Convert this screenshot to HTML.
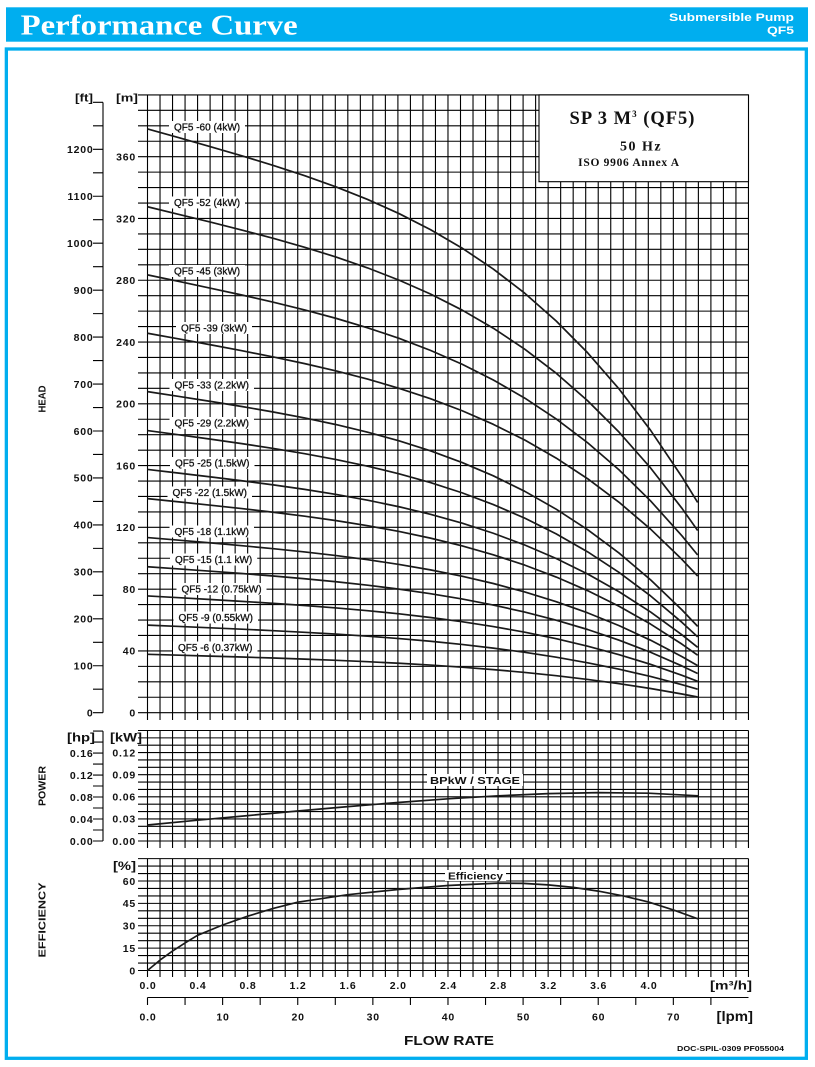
<!DOCTYPE html>
<html><head><meta charset="utf-8"><style>
html,body{margin:0;padding:0;background:#fff;}
body{width:815px;height:1067px;overflow:hidden;}
svg{display:block;}
.t{font-family:"Liberation Sans",Arial,sans-serif;font-weight:bold;font-size:10.5px;fill:#111;letter-spacing:0.8px;}
.lb{font-family:"Liberation Sans",Arial,sans-serif;font-size:10px;fill:#111;stroke:#111;stroke-width:0.3;}
.u{font-family:"Liberation Sans",Arial,sans-serif;font-weight:bold;fill:#111;}
.sf{font-family:"Liberation Serif","Times New Roman",serif;font-weight:bold;fill:#111;}
</style></head><body>
<svg width="815" height="1067" viewBox="0 0 815 1067" xmlns="http://www.w3.org/2000/svg">
<defs>
<path id="vl" d="M0 94.9V720M0 730.5V848M0 858.6V977"/>
</defs>
<rect x="0" y="0" width="815" height="1067" fill="#fff"/>
<!-- header -->
<rect x="6" y="7.3" width="802" height="34.4" fill="#00AEEF"/>
<text x="20.7" y="34.3" font-family="'Liberation Serif','Times New Roman',serif" font-weight="bold" font-size="29" fill="#fff" textLength="277" lengthAdjust="spacingAndGlyphs">Performance Curve</text>
<text x="794" y="21" text-anchor="end" font-family="'Liberation Sans',Arial,sans-serif" font-weight="bold" font-size="11" fill="#fff" textLength="125" lengthAdjust="spacingAndGlyphs">Submersible Pump</text>
<text x="794" y="34" text-anchor="end" font-family="'Liberation Sans',Arial,sans-serif" font-weight="bold" font-size="11" fill="#fff" textLength="27" lengthAdjust="spacingAndGlyphs">QF5</text>
<rect x="6.35" y="49" width="800" height="1009.3" fill="none" stroke="#00AEEF" stroke-width="3.3"/>

<!-- grid -->
<g stroke="#000" stroke-width="1.1" fill="none">
<use href="#vl" x="147.5"/><use href="#vl" x="160.02"/><use href="#vl" x="172.54"/><use href="#vl" x="185.06"/><use href="#vl" x="197.58"/><use href="#vl" x="210.1"/><use href="#vl" x="222.62"/><use href="#vl" x="235.14"/><use href="#vl" x="247.66"/><use href="#vl" x="260.18"/><use href="#vl" x="272.7"/><use href="#vl" x="285.22"/><use href="#vl" x="297.74"/><use href="#vl" x="310.26"/><use href="#vl" x="322.78"/><use href="#vl" x="335.3"/><use href="#vl" x="347.82"/><use href="#vl" x="360.34"/><use href="#vl" x="372.86"/><use href="#vl" x="385.38"/><use href="#vl" x="397.9"/><use href="#vl" x="410.42"/><use href="#vl" x="422.94"/><use href="#vl" x="435.46"/><use href="#vl" x="447.98"/><use href="#vl" x="460.5"/><use href="#vl" x="473.02"/><use href="#vl" x="485.54"/><use href="#vl" x="498.06"/><use href="#vl" x="510.58"/><use href="#vl" x="523.1"/><use href="#vl" x="535.62"/><use href="#vl" x="548.14"/><use href="#vl" x="560.66"/><use href="#vl" x="573.18"/><use href="#vl" x="585.7"/><use href="#vl" x="598.22"/><use href="#vl" x="610.74"/><use href="#vl" x="623.26"/><use href="#vl" x="635.78"/><use href="#vl" x="648.3"/><use href="#vl" x="660.82"/><use href="#vl" x="673.34"/><use href="#vl" x="685.86"/><use href="#vl" x="698.38"/><use href="#vl" x="710.9"/><use href="#vl" x="723.42"/><use href="#vl" x="735.94"/><use href="#vl" x="748.46"/>
<path d="M138 712.7H748.5M138 697.26H748.5M138 681.81H748.5M138 666.37H748.5M138 650.92H748.5M138 635.48H748.5M138 620.03H748.5M138 604.59H748.5M138 589.14H748.5M138 573.7H748.5M138 558.25H748.5M138 542.81H748.5M138 527.36H748.5M138 511.92H748.5M138 496.47H748.5M138 481.03H748.5M138 465.58H748.5M138 450.14H748.5M138 434.69H748.5M138 419.25H748.5M138 403.8H748.5M138 388.36H748.5M138 372.91H748.5M138 357.47H748.5M138 342.02H748.5M138 326.58H748.5M138 311.13H748.5M138 295.69H748.5M138 280.24H748.5M138 264.8H748.5M138 249.35H748.5M138 233.91H748.5M138 218.46H748.5M138 203.02H748.5M138 187.57H748.5M138 172.13H748.5M138 156.68H748.5M138 141.24H748.5M138 125.79H748.5M138 110.35H748.5M138 94.9H748.5"/>
<path d="M138 841H748.5M138 833.63H748.5M138 826.27H748.5M138 818.9H748.5M138 811.53H748.5M138 804.17H748.5M138 796.8H748.5M138 789.43H748.5M138 782.07H748.5M138 774.7H748.5M138 767.33H748.5M138 759.97H748.5M138 752.6H748.5M138 745.23H748.5M138 737.87H748.5M138 730.5H748.5"/>
<path d="M138 970.5H748.5M138 963.04H748.5M138 955.58H748.5M138 948.13H748.5M138 940.67H748.5M138 933.21H748.5M138 925.75H748.5M138 918.29H748.5M138 910.84H748.5M138 903.38H748.5M138 895.92H748.5M138 888.46H748.5M138 881H748.5M138 873.55H748.5M138 866.09H748.5M138 858.63H748.5"/>
<!-- ft axis -->
<path d="M103 102.35V712.7M93 712.7H103M93 689.23H103M93 665.75H103M93 642.28H103M93 618.8H103M93 595.33H103M93 571.85H103M93 548.38H103M93 524.9H103M93 501.43H103M93 477.95H103M93 454.48H103M93 431H103M93 407.53H103M93 384.05H103M93 360.58H103M93 337.1H103M93 313.63H103M93 290.15H103M93 266.68H103M93 243.2H103M93 219.73H103M93 196.25H103M93 172.78H103M93 149.3H103M93 125.83H103M93 102.35H103"/>
<!-- hp axis -->
<path d="M103 731.1V841M93 841H103M93 830H103M93 819H103M93 808H103M93 797H103M93 786H103M93 775.1H103M93 764.1H103M93 753.1H103M93 742.1H103M93 731.1H103"/>
<!-- lpm axis -->
<path d="M147.5 997.5H748.5M147.5 997.5V1005M185.06 997.5V1005M222.62 997.5V1005M260.18 997.5V1005M297.74 997.5V1005M335.3 997.5V1005M372.86 997.5V1005M410.42 997.5V1005M447.98 997.5V1005M485.54 997.5V1005M523.1 997.5V1005M560.66 997.5V1005M598.22 997.5V1005M635.78 997.5V1005M673.34 997.5V1005M710.9 997.5V1005"/>
</g>

<!-- legend box -->
<rect x="539" y="94.9" width="209.5" height="86.8" fill="#fff" stroke="#000" stroke-width="1.1"/>
<text class="sf" x="632.5" y="124" text-anchor="middle" font-size="18.5" letter-spacing="1">SP 3 M<tspan font-size="9" dy="-7">3</tspan><tspan dy="7"> (QF5)</tspan></text>
<text class="sf" x="641" y="150.5" text-anchor="middle" font-size="14" letter-spacing="1.5">50 Hz</text>
<text class="sf" x="629" y="166" text-anchor="middle" font-size="11.5" letter-spacing="0.7">ISO 9906 Annex A</text>

<!-- curve label backgrounds -->
<g fill="#fff">
<rect x="169" y="121" width="76" height="12"/>
<rect x="169" y="196.5" width="76" height="12"/>
<rect x="169" y="265" width="76" height="12"/>
<rect x="176" y="322" width="76" height="12"/>
<rect x="169.5" y="379" width="84.5" height="12"/>
<rect x="169.5" y="417" width="84.5" height="12"/>
<rect x="170" y="457" width="84.5" height="12"/>
<rect x="167.5" y="486.5" width="84.5" height="12"/>
<rect x="169.5" y="525.5" width="84.5" height="12"/>
<rect x="170" y="553.5" width="87.2" height="12"/>
<rect x="176.5" y="583" width="90" height="12"/>
<rect x="173.5" y="611.5" width="84.5" height="12"/>
<rect x="173" y="641.5" width="84.5" height="12"/>
<rect x="427" y="774" width="96" height="12"/>
<rect x="445" y="870" width="61" height="11"/>
</g>
<g class="lb">
<text x="174" y="130.6">QF5 -60 (4kW)</text>
<text x="174" y="206.1">QF5 -52 (4kW)</text>
<text x="174" y="274.6">QF5 -45 (3kW)</text>
<text x="181" y="331.6">QF5 -39 (3kW)</text>
<text x="174.5" y="388.6">QF5 -33 (2.2kW)</text>
<text x="174.5" y="426.6">QF5 -29 (2.2kW)</text>
<text x="175" y="466.6">QF5 -25 (1.5kW)</text>
<text x="172.5" y="496.1">QF5 -22 (1.5kW)</text>
<text x="174.5" y="535.1">QF5 -18 (1.1kW)</text>
<text x="175" y="563.1">QF5 -15 (1.1 kW)</text>
<text x="181.5" y="592.6">QF5 -12 (0.75kW)</text>
<text x="178.5" y="621.1">QF5 -9 (0.55kW)</text>
<text x="178" y="651.1">QF5 -6 (0.37kW)</text>
</g>
<text class="u" x="430" y="784" font-size="10.5" textLength="90" lengthAdjust="spacingAndGlyphs">BPkW / STAGE</text>
<text class="u" x="448" y="879.5" font-size="10.5" textLength="55" lengthAdjust="spacingAndGlyphs">Efficiency</text>

<!-- head curves -->
<g transform="translate(0 712.7) scale(1 -1.5444)" fill="none" stroke="#1a1a1a" stroke-width="1.7" stroke-linejoin="round">
<path transform="scale(1 60)" vector-effect="non-scaling-stroke" d="M147.5 6.3L178.94 6.2049L210.38 6.1088L241.81 6.01L273.25 5.9064L304.69 5.7953L336.13 5.6739L367.56 5.5388L399 5.3866L430.44 5.2134L461.88 5.0152L493.31 4.7877L524.75 4.5268L556.19 4.2274L587.63 3.8844L619.06 3.4934L650.5 3.0487L681.94 2.5452L697.66 2.2691"/>
<path transform="scale(1 52)" vector-effect="non-scaling-stroke" d="M147.5 6.3L178.94 6.2049L210.38 6.1088L241.81 6.01L273.25 5.9064L304.69 5.7953L336.13 5.6739L367.56 5.5388L399 5.3866L430.44 5.2134L461.88 5.0152L493.31 4.7877L524.75 4.5268L556.19 4.2274L587.63 3.8844L619.06 3.4934L650.5 3.0487L681.94 2.5452L697.66 2.2691"/>
<path transform="scale(1 45)" vector-effect="non-scaling-stroke" d="M147.5 6.3L178.94 6.2049L210.38 6.1088L241.81 6.01L273.25 5.9064L304.69 5.7953L336.13 5.6739L367.56 5.5388L399 5.3866L430.44 5.2134L461.88 5.0152L493.31 4.7877L524.75 4.5268L556.19 4.2274L587.63 3.8844L619.06 3.4934L650.5 3.0487L681.94 2.5452L697.66 2.2691"/>
<path transform="scale(1 39)" vector-effect="non-scaling-stroke" d="M147.5 6.3L178.94 6.2049L210.38 6.1088L241.81 6.01L273.25 5.9064L304.69 5.7953L336.13 5.6739L367.56 5.5388L399 5.3866L430.44 5.2134L461.88 5.0152L493.31 4.7877L524.75 4.5268L556.19 4.2274L587.63 3.8844L619.06 3.4934L650.5 3.0487L681.94 2.5452L697.66 2.2691"/>
<path transform="scale(1 33)" vector-effect="non-scaling-stroke" d="M147.5 6.3L178.94 6.2048L210.38 6.1082L241.81 6.0077L273.25 5.9005L304.69 5.7834L336.13 5.6527L367.56 5.5044L399 5.3344L430.44 5.1381L461.88 4.9109L493.31 4.6478L524.75 4.3438L556.19 3.9932L587.63 3.5914L619.06 3.1319L650.5 2.6091L681.94 2.0176L697.66 1.6935"/>
<path transform="scale(1 29)" vector-effect="non-scaling-stroke" d="M147.5 6.3L178.94 6.2048L210.38 6.1082L241.81 6.0077L273.25 5.9005L304.69 5.7834L336.13 5.6527L367.56 5.5044L399 5.3344L430.44 5.1381L461.88 4.9109L493.31 4.6478L524.75 4.3438L556.19 3.9932L587.63 3.5914L619.06 3.1319L650.5 2.6091L681.94 2.0176L697.66 1.6935"/>
<path transform="scale(1 25)" vector-effect="non-scaling-stroke" d="M147.5 6.3L178.94 6.2048L210.38 6.1082L241.81 6.0077L273.25 5.9005L304.69 5.7834L336.13 5.6527L367.56 5.5044L399 5.3344L430.44 5.1381L461.88 4.9109L493.31 4.6478L524.75 4.3438L556.19 3.9932L587.63 3.5914L619.06 3.1319L650.5 2.6091L681.94 2.0176L697.66 1.6935"/>
<path transform="scale(1 22)" vector-effect="non-scaling-stroke" d="M147.5 6.3L178.94 6.2048L210.38 6.1082L241.81 6.0077L273.25 5.9005L304.69 5.7834L336.13 5.6527L367.56 5.5044L399 5.3344L430.44 5.1381L461.88 4.9109L493.31 4.6478L524.75 4.3438L556.19 3.9932L587.63 3.5914L619.06 3.1319L650.5 2.6091L681.94 2.0176L697.66 1.6935"/>
<path transform="scale(1 18)" vector-effect="non-scaling-stroke" d="M147.5 6.3L178.94 6.2048L210.38 6.1082L241.81 6.0077L273.25 5.9005L304.69 5.7834L336.13 5.6527L367.56 5.5044L399 5.3344L430.44 5.1381L461.88 4.9109L493.31 4.6478L524.75 4.3438L556.19 3.9932L587.63 3.5914L619.06 3.1319L650.5 2.6091L681.94 2.0176L697.66 1.6935"/>
<path transform="scale(1 15)" vector-effect="non-scaling-stroke" d="M147.5 6.3L178.94 6.2048L210.38 6.1082L241.81 6.0077L273.25 5.9005L304.69 5.7834L336.13 5.6527L367.56 5.5044L399 5.3344L430.44 5.1381L461.88 4.9109L493.31 4.6478L524.75 4.3438L556.19 3.9932L587.63 3.5914L619.06 3.1319L650.5 2.6091L681.94 2.0176L697.66 1.6935"/>
<path transform="scale(1 12)" vector-effect="non-scaling-stroke" d="M147.5 6.3L178.94 6.2048L210.38 6.1082L241.81 6.0077L273.25 5.9005L304.69 5.7834L336.13 5.6527L367.56 5.5044L399 5.3344L430.44 5.1381L461.88 4.9109L493.31 4.6478L524.75 4.3438L556.19 3.9932L587.63 3.5914L619.06 3.1319L650.5 2.6091L681.94 2.0176L697.66 1.6935"/>
<path transform="scale(1 9)" vector-effect="non-scaling-stroke" d="M147.5 6.3L178.94 6.2048L210.38 6.1082L241.81 6.0077L273.25 5.9005L304.69 5.7834L336.13 5.6527L367.56 5.5044L399 5.3344L430.44 5.1381L461.88 4.9109L493.31 4.6478L524.75 4.3438L556.19 3.9932L587.63 3.5914L619.06 3.1319L650.5 2.6091L681.94 2.0176L697.66 1.6935"/>
<path transform="scale(1 6)" vector-effect="non-scaling-stroke" d="M147.5 6.3L178.94 6.2048L210.38 6.1082L241.81 6.0077L273.25 5.9005L304.69 5.7834L336.13 5.6527L367.56 5.5044L399 5.3344L430.44 5.1381L461.88 4.9109L493.31 4.6478L524.75 4.3438L556.19 3.9932L587.63 3.5914L619.06 3.1319L650.5 2.6091L681.94 2.0176L697.66 1.6935"/>
</g>

<!-- power & efficiency curves -->
<g fill="none" stroke="#1a1a1a" stroke-width="1.7" stroke-linejoin="round">
<polyline points="147.5,825 197.6,820.2 247.7,815.6 297.7,811 347.8,806.6 397.9,802.5 448,798.8 498.1,795.8 548.1,793.6 598.2,792.6 648.3,793.2 698.4,795.8"/>
<polyline points="147.5,970.5 160,960.1 172.5,951.1 185.1,942.9 197.6,935.3 222.6,925 247.7,916.2 272.7,908.6 297.7,902.2 347.8,894.7 397.9,889.5 448,885.5 498.1,883.1 523.1,883.4 548.1,884.9 573.2,887.4 598.2,891.1 623.3,895.9 648.3,901.9 673.3,909.9 698.4,919"/>
</g>

<!-- ft labels -->
<g class="t" text-anchor="end">
<text x="93.5" y="716.5">0</text>
<text x="93.5" y="669.5">100</text>
<text x="93.5" y="622.6">200</text>
<text x="93.5" y="575.6">300</text>
<text x="93.5" y="528.7">400</text>
<text x="93.5" y="481.7">500</text>
<text x="93.5" y="434.8">600</text>
<text x="93.5" y="387.8">700</text>
<text x="93.5" y="340.9">800</text>
<text x="93.5" y="293.9">900</text>
<text x="93.5" y="247">1000</text>
<text x="93.5" y="200">1100</text>
<text x="93.5" y="153.1">1200</text>
<!-- m labels -->
<text x="136" y="716.5">0</text>
<text x="136" y="654.7">40</text>
<text x="136" y="592.9">80</text>
<text x="136" y="531.2">120</text>
<text x="136" y="469.4">160</text>
<text x="136" y="407.6">200</text>
<text x="136" y="345.8">240</text>
<text x="136" y="284">280</text>
<text x="136" y="222.3">320</text>
<text x="136" y="160.5">360</text>
<!-- hp labels -->
<text x="93.5" y="844.8">0.00</text>
<text x="93.5" y="822.8">0.04</text>
<text x="93.5" y="800.8">0.08</text>
<text x="93.5" y="778.9">0.12</text>
<text x="93.5" y="756.9">0.16</text>
<!-- kW labels -->
<text x="136" y="844.8">0.00</text>
<text x="136" y="822.7">0.03</text>
<text x="136" y="800.6">0.06</text>
<text x="136" y="778.5">0.09</text>
<text x="136" y="756.4">0.12</text>
<!-- % labels -->
<text x="136" y="974.3">0</text>
<text x="136" y="951.9">15</text>
<text x="136" y="929.5">30</text>
<text x="136" y="907.2">45</text>
<text x="136" y="884.8">60</text>
</g>
<g class="t" text-anchor="middle">
<text x="148" y="989">0.0</text>
<text x="198" y="989">0.4</text>
<text x="248" y="989">0.8</text>
<text x="298" y="989">1.2</text>
<text x="348" y="989">1.6</text>
<text x="398.3" y="989">2.0</text>
<text x="448.5" y="989">2.4</text>
<text x="498.5" y="989">2.8</text>
<text x="548.5" y="989">3.2</text>
<text x="598.6" y="989">3.6</text>
<text x="649" y="989">4.0</text>
<text x="148" y="1020.5">0.0</text>
<text x="223" y="1020.5">10</text>
<text x="298.2" y="1020.5">20</text>
<text x="373.3" y="1020.5">30</text>
<text x="448.4" y="1020.5">40</text>
<text x="523.5" y="1020.5">50</text>
<text x="598.6" y="1020.5">60</text>
<text x="673.7" y="1020.5">70</text>
</g>
<!-- unit labels -->
<text class="u" x="75" y="101.5" font-size="11" textLength="18" lengthAdjust="spacingAndGlyphs">[ft]</text>
<text class="u" x="116" y="101.5" font-size="11" textLength="22" lengthAdjust="spacingAndGlyphs">[m]</text>
<text class="u" x="67" y="741.5" font-size="12" textLength="28" lengthAdjust="spacingAndGlyphs">[hp]</text>
<text class="u" x="110" y="741.5" font-size="12" textLength="32" lengthAdjust="spacingAndGlyphs">[kW]</text>
<text class="u" x="113" y="870" font-size="12" textLength="23" lengthAdjust="spacingAndGlyphs">[%]</text>
<text class="u" x="710" y="989.5" font-size="12" textLength="42" lengthAdjust="spacingAndGlyphs">[m³/h]</text>
<text class="u" x="716.5" y="1021" font-size="13.5" textLength="36.5" lengthAdjust="spacingAndGlyphs">[lpm]</text>
<text class="u" x="404" y="1045" font-size="13" textLength="90" lengthAdjust="spacingAndGlyphs">FLOW RATE</text>
<text class="u" x="677" y="1051" font-size="7.5" textLength="107" lengthAdjust="spacingAndGlyphs">DOC-SPIL-0309 PF055004</text>
<text class="u" transform="translate(45.5 399) rotate(-90)" text-anchor="middle" font-size="10.5" textLength="27" lengthAdjust="spacingAndGlyphs">HEAD</text>
<text class="u" transform="translate(45.5 786) rotate(-90)" text-anchor="middle" font-size="10.5" textLength="40" lengthAdjust="spacingAndGlyphs">POWER</text>
<text class="u" transform="translate(45.5 920) rotate(-90)" text-anchor="middle" font-size="10.5" textLength="75" lengthAdjust="spacingAndGlyphs">EFFICIENCY</text>
</svg>
</body></html>
